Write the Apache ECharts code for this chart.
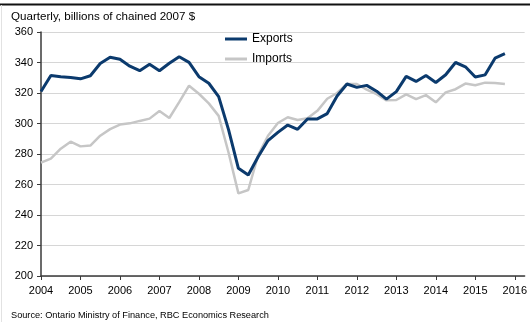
<!DOCTYPE html>
<html>
<head>
<meta charset="utf-8">
<script src="https://cdn.jsdelivr.net/npm/echarts@6/dist/echarts.min.js"></script>
<style>
  html, body { margin: 0; padding: 0; background: #fff; }
  #chart { width: 530px; height: 322px; }
</style>
</head>
<body>
<div id="chart"></div>
<script>
// Ontario real exports and imports, quarterly, 2004Q1 to 2015Q4
const startYear = 2004;
const exportsValues = [
  321.0, 331.5, 330.7, 330.2,
  329.3, 331.3, 339.3, 343.4,
  342.1, 337.6, 334.6, 338.8,
  334.6, 339.5, 343.8, 340.1,
  330.7, 326.4, 317.6, 296.0,
  270.6, 266.2, 278.2, 288.8,
  294.2, 299.0, 296.2, 302.9,
  303.0, 306.5, 318.0, 325.9,
  323.7, 325.0, 321.2, 316.0,
  320.9, 330.9, 327.6, 331.5,
  326.9, 332.0, 340.0, 337.2,
  330.5, 331.9, 342.8, 345.8
];
const importsValues = [
  274.4, 277.0, 283.5, 288.1,
  285.0, 285.5, 292.0, 296.3,
  299.3, 300.1, 301.7, 303.2,
  308.2, 303.6, 314.0, 324.8,
  319.5, 313.2, 305.0, 281.0,
  254.2, 256.4, 279.3, 292.0,
  300.3, 304.1, 302.3, 303.4,
  308.3, 316.2, 320.0, 325.9,
  325.9, 322.2, 319.2, 315.2,
  315.4, 319.1, 316.0, 318.6,
  313.9, 320.4, 322.5, 326.2,
  325.1, 326.8, 326.5, 325.9
];
const yearTicks = [2004, 2005, 2006, 2007, 2008, 2009, 2010, 2011, 2012, 2013, 2014, 2015, 2016];
const titleText = 'Quarterly, billions of chained 2007 $';
const sourceText = 'Source: Ontario Ministry of Finance, RBC Economics Research';

// each value sits at the start of its quarter
const toPoints = values => values.map((v, i) => [startYear + i / 4, v]);

const FONT = '"Liberation Sans", Arial, sans-serif';
const chart = echarts.init(document.getElementById('chart'), null, { renderer: 'canvas' });

chart.setOption({
  animation: false,
  backgroundColor: '#fff',
  textStyle: { fontFamily: FONT },
  title: [
    {
      text: titleText,
      left: 11, top: 11, padding: 0,
      textStyle: { fontSize: 11.6, fontWeight: 'normal', color: '#000', fontFamily: FONT }
    },
    {
      text: sourceText,
      left: 11, top: 311, padding: 0,
      textStyle: { fontSize: 9.2, fontWeight: 'normal', color: '#000', fontFamily: FONT }
    }
  ],
  graphic: [
    { type: 'line', shape: { x1: 0, y1: 4.5, x2: 530, y2: 4.5 }, style: { stroke: '#111', lineWidth: 2 } },
    { type: 'line', shape: { x1: 1.5, y1: 5, x2: 1.5, y2: 322 }, style: { stroke: '#e2e2e2', lineWidth: 1 } }
  ],
  legend: {
    orient: 'vertical',
    left: 225, top: 33,
    padding: 0,
    itemWidth: 22, itemHeight: 3,
    itemGap: 8,
    textStyle: { fontSize: 12, color: '#000', fontFamily: FONT },
    data: [
      { name: 'Exports', icon: 'rect', itemStyle: { color: '#0b3a6d' } },
      { name: 'Imports', icon: 'rect', itemStyle: { color: '#c6c6c6' } }
    ]
  },
  grid: { left: 41, right: 2, top: 32, bottom: 46, containLabel: false },
  xAxis: {
    type: 'value',
    min: 2004, max: 2016.25,
    interval: 1,
    axisLine: { show: true, onZero: false, lineStyle: { color: '#3a3a3a', width: 1.5 } },
    axisTick: { show: true, length: 4, customValues: yearTicks, lineStyle: { color: '#3a3a3a', width: 1 } },
    axisLabel: {
      customValues: yearTicks,
      formatter: v => String(v),
      margin: 9, fontSize: 11, color: '#000', fontFamily: FONT
    },
    splitLine: { show: false }
  },
  yAxis: {
    type: 'value',
    min: 200, max: 360, interval: 20,
    axisLine: { show: true, lineStyle: { color: '#3a3a3a', width: 1.5 } },
    axisTick: { show: true, length: 4, lineStyle: { color: '#3a3a3a', width: 1 } },
    axisLabel: { margin: 8, fontSize: 11, color: '#000', fontFamily: FONT },
    splitLine: { show: true, lineStyle: { color: '#d6d6d6', width: 1 } }
  },
  series: [
    {
      name: 'Imports', type: 'line', showSymbol: false, symbol: 'none',
      data: toPoints(importsValues),
      lineStyle: { color: '#c6c6c6', width: 2.5 },
      itemStyle: { color: '#c6c6c6' },
      z: 2
    },
    {
      name: 'Exports', type: 'line', showSymbol: false, symbol: 'none',
      data: toPoints(exportsValues),
      lineStyle: { color: '#0b3a6d', width: 3 },
      itemStyle: { color: '#0b3a6d' },
      z: 3
    }
  ]
});
</script>
</body>
</html>
